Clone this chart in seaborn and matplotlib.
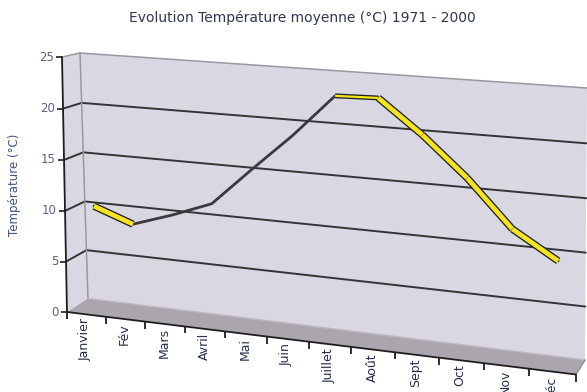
import numpy as np
import pandas as pd
import matplotlib
matplotlib.use("Agg")
import matplotlib.pyplot as plt
import matplotlib.transforms as mtransforms
import matplotlib.patheffects as pe
from matplotlib.patches import Polygon
import seaborn as sns

# ---------------- data ----------------
months = ["Janvier", "Fév", "Mars", "Avril", "Mai", "Juin",
          "Juillet", "Août", "Sept", "Oct", "Nov", "Déc"]
temps = [10.2, 8.8, 10.1, 11.6, 15.3, 18.9, 22.9, 23.0, 19.9, 16.3, 12.0, 9.5]
yticks = [0, 5, 10, 15, 20, 25]
title = "Evolution Température moyenne (°C) 1971 - 2000"
ylabel = "Température (°C)"

sns.set_theme(style="white")
plt.rcParams["font.family"] = ["DejaVu Sans"]

W, H = 587, 392
fig = plt.figure(figsize=(W / 100, H / 100), dpi=100)
fig.patch.set_facecolor("white")
ax = fig.add_axes([0, 0, 1, 1])
ax.set_xlim(0, W)
ax.set_ylim(H, 0)
ax.set_autoscale_on(False)
ax.axis("off")

n = len(months)
ymax = yticks[-1]


# ---------------- perspective (3D look of the original chart) ----------------
def homography(src, dst):
    A = []
    for (x, y), (X, Y) in zip(src, dst):
        A.append([x, y, 1, 0, 0, 0, -X * x, -X * y, -X])
        A.append([0, 0, 0, x, y, 1, -Y * x, -Y * y, -Y])
    _, _, Vt = np.linalg.svd(np.array(A, float))
    Hm = Vt[-1].reshape(3, 3)
    return Hm / Hm[2, 2]


corners = [(0, 0), (0, ymax), (n, 0), (n, ymax)]
HF = homography(corners, [(67, 312), (62, 57), (576, 374.5), (579, 93)])   # front plane
HB = homography(corners, [(88, 298.5), (80, 53), (585, 360), (587, 88)])   # back wall


def _apply(Hm, u, t):
    p = np.stack([u, t, np.ones_like(u)], axis=1) @ Hm.T
    return p[:, :2] / p[:, 2:3]


def proj(u, t, d):
    d = np.broadcast_to(np.asarray(d, float), np.shape(u))[:, None]
    return (1 - d) * _apply(HF, u, t) + d * _apply(HB, u, t)


class PlaneT(mtransforms.Transform):
    input_dims = 2
    output_dims = 2
    is_separable = False
    has_inverse = False

    def __init__(self, kind, value):
        super().__init__()
        self.kind = kind
        self.value = value

    def transform_non_affine(self, values):
        v = np.asarray(values, float)
        one = v.ndim == 1
        v = np.atleast_2d(v)
        a, b = v[:, 0], v[:, 1]
        c = np.full_like(a, self.value)
        if self.kind == "d":      # inputs (u, t) at fixed depth
            out = proj(a, b, c)
        elif self.kind == "u":    # inputs (d, t) at fixed category position
            out = proj(c, b, a)
        else:                     # inputs (u, d) at fixed value t
            out = proj(a, c, b)
        return out[0] if one else out


def T(kind, value):
    return PlaneT(kind, value) + ax.transData


wall_c = "#d9d7e2"
floor_c = "#aba6ae"
edge_c = "#9a96a2"
grid_c = "#343434"

# walls
ax.add_patch(Polygon([(0, 0), (n, 0), (n, ymax), (0, ymax)], closed=True,
                     transform=T("d", 1), facecolor=wall_c, edgecolor="none", zorder=1))
ax.add_patch(Polygon([(0, 0), (1, 0), (1, ymax), (0, ymax)], closed=True,
                     transform=T("u", 0), facecolor=wall_c, edgecolor="none", zorder=1))

# gridlines (side wall + back wall)
for yt in yticks[1:-1]:
    ax.plot([0, 1], [yt, yt], transform=T("u", 0), color=grid_c, lw=1.4, zorder=2)
    ax.plot([0, n], [yt, yt], transform=T("d", 1), color=grid_c, lw=1.4, zorder=2)

# wall edges
ax.plot([0, n], [ymax, ymax], transform=T("d", 1), color=edge_c, lw=1.1, zorder=2)
ax.plot([0, 1], [ymax, ymax], transform=T("u", 0), color=edge_c, lw=1.1, zorder=2)
ax.plot([0, 0], [0, ymax], transform=T("d", 1), color=edge_c, lw=1.1, zorder=2)

# floor
ax.add_patch(Polygon([(0, 0), (n, 0), (n, 1), (0, 1)], closed=True,
                     transform=T("t", 0), facecolor=floor_c, edgecolor="none", zorder=3))
ax.plot([0, n], [1, 1], transform=T("t", 0), color="#bdb8c0", lw=1.0, zorder=3)
ax.plot([n, n], [0, 1], transform=T("t", 0), color="#8e8992", lw=1.0, zorder=3)

# ---------------- series (ribbon at mid depth) ----------------
pos = np.arange(n) + 0.5
df = pd.DataFrame({"pos": pos, "temp": temps, "mois": months})
sns.lineplot(data=df, x="pos", y="temp", ax=ax, transform=T("d", 0.5),
             color="#3b393d", lw=2.0, sort=False, estimator=None, legend=False,
             zorder=4, solid_joinstyle="round")

yellow = "#f6e41c"
for i in range(n - 1):
    dv = temps[i + 1] - temps[i]
    if dv > 0.3:
        continue
    lw = 3.4 if dv < -0.3 else 1.6
    ax.plot(pos[i:i + 2], temps[i:i + 2], transform=T("d", 0.5), color=yellow,
            lw=lw, solid_capstyle="butt", zorder=5,
            path_effects=[pe.Stroke(linewidth=lw + 1.9, foreground="#222222"),
                          pe.Normal()])

# ---------------- axes ----------------
ax.plot([0, 0], [0, ymax], transform=T("d", 0), color="#1e1e1e", lw=1.3, zorder=6)
ax.plot(np.zeros(len(yticks)), yticks, transform=T("d", 0), ls="none",
        marker=0, ms=4, mew=1.2, color="#1e1e1e", zorder=6)
ax.plot([0, n], [0, 0], transform=T("d", 0), color="#1e1e1e", lw=1.3, zorder=6)
ax.plot(np.arange(n + 1), np.zeros(n + 1), transform=T("d", 0), ls="none",
        marker=3, ms=5, mew=1.3, color="#1e1e1e", zorder=6)

ytr = mtransforms.offset_copy(T("d", 0), fig=fig, x=-8, y=0, units="dots")
for yt in yticks:
    ax.text(0, yt, str(yt), transform=ytr, ha="right", va="center",
            fontsize=8.5, color="#5a6086", zorder=7)

xtr = mtransforms.offset_copy(T("d", 0), fig=fig, x=-1, y=-4, units="dots")
for p, m in zip(pos, months):
    ax.text(p, 0, m, transform=xtr, rotation=90, ha="center", va="top",
            fontsize=9, color="#272e4c", zorder=7)

fig.text(302 / W, 1 - 18 / H, title, ha="center", va="center",
         fontsize=10, color="#30374f")
fig.text(15 / W, 1 - 185 / H, ylabel, rotation=90, ha="center", va="center",
         fontsize=8.5, color="#3f5285")

fig.savefig("out.png", dpi=100)
